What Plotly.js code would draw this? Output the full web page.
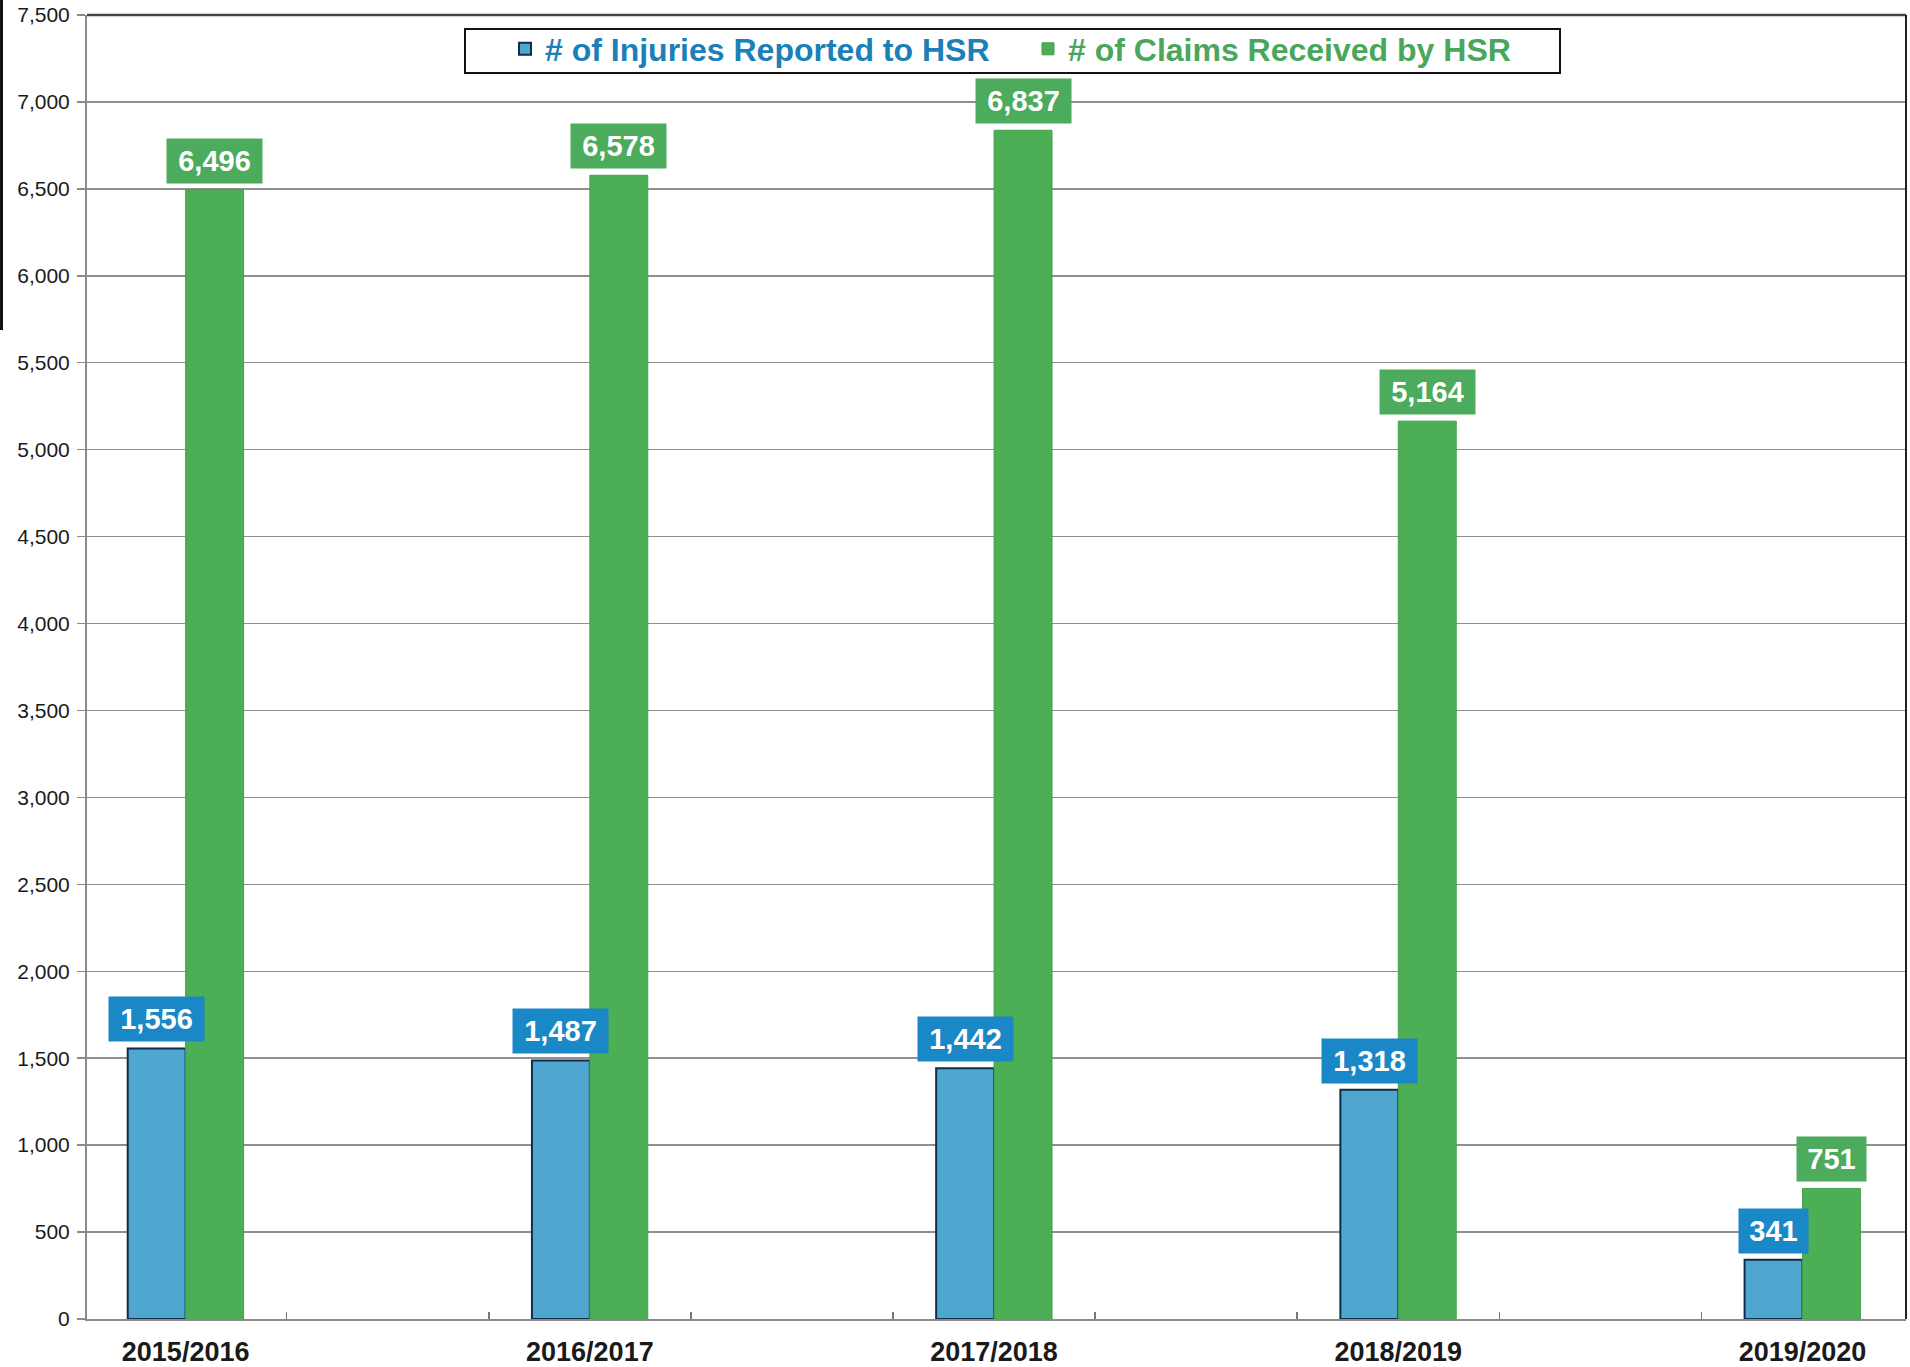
<!DOCTYPE html>
<html>
<head>
<meta charset="utf-8">
<script src="https://cdn.plot.ly/plotly-3.0.1.min.js"></script>
<style>
  html, body { margin: 0; padding: 0; background: #ffffff; }
  #chart { width: 1910px; height: 1367px; }
</style>
</head>
<body>
<div id="chart"></div>
<script>
// ---- data ----
const categories = ['2015/2016', '2016/2017', '2017/2018', '2018/2019', '2019/2020'];
const injuries = [1556, 1487, 1442, 1318, 341];
const claims = [6496, 6578, 6837, 5164, 751];
const seriesNames = ['# of Injuries Reported to HSR', '# of Claims Received by HSR'];

// ---- styling constants ----
const W = 1910, H = 1367;
const M = { l: 87, r: 4, t: 15, b: 48 };
const plotW = W - M.l - M.r, plotH = H - M.t - M.b;
const pxX = p => (p - M.l) / plotW;
const pxY = p => 1 - (p - M.t) / plotH;

const BARGAP = 0.7134;
const BAR_W = (1 - BARGAP) / 2;
const FONT = 'Liberation Sans, Arial, sans-serif';

const blueFill = '#4fa7d0', blueLine = '#0f2d4d', blueLabel = '#1a87c6', blueText = '#1a80b8';
const greenFill = '#4caf55', greenLine = '#43a04c', greenLabel = '#4cab5c', greenText = '#4aa65a';

const xIdx = categories.map((_, i) => i);
const minorTicks = xIdx.slice(0, -1).flatMap(i => [i + 0.25, i + 0.75]);

const fmt = v => v.toLocaleString('en-US');
const boxWidth = s => s.replace(/,/g, '').length * 17 + (s.match(/,/g) || []).length * 9 + 6;

const traces = [
  {
    type: 'bar', x: xIdx, y: injuries,
    name: '<span style="color:' + blueText + '">' + seriesNames[0] + '</span>',
    marker: { color: blueFill, line: { color: blueLine, width: 2 } },
    hoverinfo: 'y'
  },
  {
    type: 'bar', x: xIdx, y: claims,
    name: '<span style="color:' + greenText + '">' + seriesNames[1] + '</span>',
    marker: { color: greenFill, line: { color: greenLine, width: 1 } },
    hoverinfo: 'y'
  }
];

const annotations = [];
[[injuries, -1, blueLabel], [claims, 1, greenLabel]].forEach(([vals, side, bg]) => {
  vals.forEach((v, i) => {
    const t = fmt(v);
    annotations.push({
      x: xIdx[i] + side * BAR_W / 2, y: v, xref: 'x', yref: 'y',
      text: t, showarrow: false, yanchor: 'bottom', yshift: 6,
      bgcolor: bg, borderpad: 6, width: boxWidth(t),
      font: { family: FONT, size: 29, color: '#ffffff', weight: 'bold' }
    });
  });
});

const shapes = [
  // legend frame
  { type: 'rect', xref: 'paper', yref: 'paper', layer: 'above',
    x0: pxX(465), x1: pxX(1560), y0: pxY(73), y1: pxY(29),
    line: { color: '#111111', width: 2 }, fillcolor: '#ffffff' },
  // top border at max
  { type: 'line', xref: 'paper', yref: 'paper', x0: 0, x1: 1, y0: 1, y1: 1,
    line: { color: '#444444', width: 2.5 } },
  // right border
  { type: 'line', xref: 'paper', yref: 'paper', x0: 1, x1: 1, y0: 0, y1: 1,
    line: { color: '#222222', width: 2 } },
  // left outer border (scan edge)
  { type: 'line', xref: 'paper', yref: 'paper', x0: pxX(1.5), x1: pxX(1.5), y0: pxY(330), y1: pxY(0),
    line: { color: '#111111', width: 3 } }
];

const layout = {
  width: W, height: H,
  margin: M,
  paper_bgcolor: '#ffffff', plot_bgcolor: '#ffffff',
  barmode: 'group', bargap: BARGAP, bargroupgap: 0,
  showlegend: true,
  legend: {
    orientation: 'h', x: pxX(505), xanchor: 'left', y: pxY(49), yanchor: 'middle',
    bgcolor: 'rgba(0,0,0,0)', borderwidth: 0,
    entrywidth: 478, entrywidthmode: 'pixels',
    font: { family: FONT, size: 32, weight: 'bold', color: '#1a80b8' },
    traceorder: 'normal'
  },
  xaxis: {
    type: 'linear', range: [-0.244, 4.256],
    tickmode: 'array', tickvals: xIdx, ticktext: categories,
    ticks: '', showgrid: false, zeroline: false,
    showline: true, linecolor: '#8a8a8a', linewidth: 2,
    ticklabelstandoff: 8,
    tickfont: { family: FONT, size: 27, weight: 'bold', color: '#1a1a1a' },
    minor: { tickmode: 'array', tickvals: minorTicks, ticks: 'inside', ticklen: 7, tickwidth: 1.5, tickcolor: '#777777', showgrid: false },
    fixedrange: true
  },
  yaxis: {
    range: [0, 7500], dtick: 500, tick0: 0, tickformat: ',d',
    ticks: 'outside', ticklen: 8, tickwidth: 1.5, tickcolor: '#8a8a8a',
    showgrid: true, gridcolor: '#8f8f8f', gridwidth: 1.5,
    zeroline: false, showline: true, linecolor: '#8a8a8a', linewidth: 2,
    ticklabelstandoff: 3,
    tickfont: { family: FONT, size: 21, color: '#1a1a1a' },
    fixedrange: true
  },
  annotations: annotations,
  shapes: shapes
};

Plotly.newPlot('chart', traces, layout, { displayModeBar: false, staticPlot: true });
</script>
</body>
</html>
